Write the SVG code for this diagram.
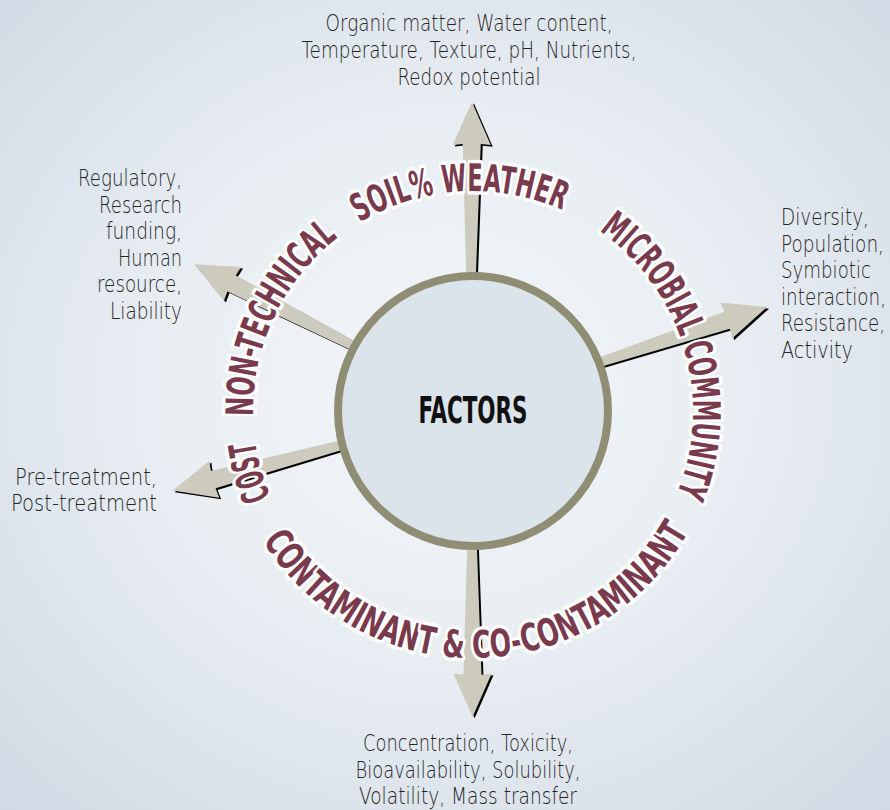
<svg xmlns="http://www.w3.org/2000/svg" width="890" height="810" viewBox="0 0 890 810">
<defs>
<radialGradient id="bg" cx="50%" cy="48%" r="72%">
<stop offset="0" stop-color="#f3f6f9"/>
<stop offset="0.45" stop-color="#e9eef3"/>
<stop offset="1" stop-color="#d0d9e4"/>
</radialGradient>
<path id="pSoil" d="M359.7,222.4 A220,220 0 0 1 594.2,227.6"/>
<path id="pMicro" d="M599.2,230.8 A220,220 0 0 1 659.6,527.6"/>
<path id="pCost" d="M270.5,497.0 A220,220 0 0 1 253.1,403.3"/>
<path id="pNon" d="M253.1,416.0 A220,220 0 0 1 369.7,216.8"/>
<path id="pCont" d="M262.6,540.4 A247,247 0 0 0 706.5,491.4"/>
</defs>
<style>
.arrow{fill:#cdcbbe}
.shadow{fill:#000}
.ring{fill:#dbe4ea;stroke:#8f8e74;stroke-width:8}
.cat{font-family:"DejaVu Sans Condensed","DejaVu Sans",sans-serif;font-weight:bold;font-size:38px;fill:#7a3a4d;stroke:#ffffff;stroke-width:7px;stroke-linejoin:round;paint-order:stroke}
.lbl{font-family:"DejaVu Sans","DejaVu Sans Condensed",sans-serif;font-weight:200;font-size:23px;fill:#262626}
.title{font-family:"DejaVu Sans Condensed","DejaVu Sans",sans-serif;font-weight:bold;font-size:37px;fill:#111111}
</style>
<rect width="890" height="810" fill="url(#bg)"/>
<g id="connectors">
<g transform="translate(2,1.6)" class="shadow">
<polygon transform="translate(471,286) rotate(-89.7)" points="0,-4.5 142,-9 141,-19 184,0 141,19 142,9 0,4.5"/>
<polygon transform="translate(592.7,364.4) rotate(-18.2)" points="0,-4.5 141.5,-9 140.5,-19 183.5,0 140.5,19 141.5,9 0,4.5"/>
<polygon transform="translate(362.5,350.4) rotate(207.1)" points="0,-4.5 147,-9 146,-19 189,0 146,19 147,9 0,4.5"/>
<polygon transform="translate(351.5,442.3) rotate(164.9)" points="0,-4.5 143.2,-9 142.2,-19 185.2,0 142.2,19 143.2,9 0,4.5"/>
<polygon transform="translate(472,536) rotate(89.8)" points="0,-4.5 138.7,-9 137.7,-19 180.7,0 137.7,19 138.7,9 0,4.5"/>
</g>
<g class="arrow">
<polygon id="arrow-soil" transform="translate(471,286) rotate(-89.7)" points="0,-4.5 142,-9 141,-19 184,0 141,19 142,9 0,4.5"/>
<polygon id="arrow-micro" transform="translate(592.7,364.4) rotate(-18.2)" points="0,-4.5 141.5,-9 140.5,-19 183.5,0 140.5,19 141.5,9 0,4.5"/>
<polygon id="arrow-nontech" transform="translate(362.5,350.4) rotate(207.1)" points="0,-4.5 147,-9 146,-19 189,0 146,19 147,9 0,4.5"/>
<polygon id="arrow-cost" transform="translate(351.5,442.3) rotate(164.9)" points="0,-4.5 143.2,-9 142.2,-19 185.2,0 142.2,19 143.2,9 0,4.5"/>
<polygon id="arrow-cont" transform="translate(472,536) rotate(89.8)" points="0,-4.5 138.7,-9 137.7,-19 180.7,0 137.7,19 138.7,9 0,4.5"/>
</g>
</g>
<g id="factors">
<circle class="ring" cx="473" cy="411" r="135"/>
<text class="title" x="473" y="423" text-anchor="middle" textLength="109" lengthAdjust="spacingAndGlyphs">FACTORS</text>
</g>
<g id="cat-soil"><text class="cat"><textPath href="#pSoil" textLength="211" lengthAdjust="spacingAndGlyphs">SOIL% WEATHER</textPath></text></g>
<g id="cat-micro"><text class="cat"><textPath href="#pMicro" textLength="296" lengthAdjust="spacingAndGlyphs">MICROBIAL COMMUNITY</textPath></text></g>
<g id="cat-cost"><text class="cat"><textPath href="#pCost" textLength="58" lengthAdjust="spacingAndGlyphs">COST</textPath></text></g>
<g id="cat-nontech"><text class="cat"><textPath href="#pNon" textLength="205" lengthAdjust="spacingAndGlyphs">NON-TECHNICAL</textPath></text></g>
<g id="cat-cont"><text class="cat"><textPath href="#pCont" textLength="514" lengthAdjust="spacingAndGlyphs">CONTAMINANT &amp; CO-CONTAMINANT</textPath></text></g>
<g id="label-soil" class="lbl" text-anchor="middle">
<text x="469" y="31" textLength="287" lengthAdjust="spacingAndGlyphs">Organic matter, Water content,</text>
<text x="469" y="58" textLength="335" lengthAdjust="spacingAndGlyphs">Temperature, Texture, pH, Nutrients,</text>
<text x="469" y="85" textLength="143" lengthAdjust="spacingAndGlyphs">Redox potential</text>
</g>
<g id="label-micro" class="lbl">
<text x="781" y="225" textLength="88" lengthAdjust="spacingAndGlyphs">Diversity,</text>
<text x="781" y="252" textLength="103" lengthAdjust="spacingAndGlyphs">Population,</text>
<text x="781" y="278" textLength="90" lengthAdjust="spacingAndGlyphs">Symbiotic</text>
<text x="781" y="305" textLength="105" lengthAdjust="spacingAndGlyphs">interaction,</text>
<text x="781" y="331" textLength="104" lengthAdjust="spacingAndGlyphs">Resistance,</text>
<text x="781" y="358" textLength="72" lengthAdjust="spacingAndGlyphs">Activity</text>
</g>
<g id="label-nontech" class="lbl" text-anchor="end">
<text x="182" y="186" textLength="104" lengthAdjust="spacingAndGlyphs">Regulatory,</text>
<text x="182" y="213" textLength="83" lengthAdjust="spacingAndGlyphs">Research</text>
<text x="182" y="239" textLength="76" lengthAdjust="spacingAndGlyphs">funding,</text>
<text x="182" y="266" textLength="64" lengthAdjust="spacingAndGlyphs">Human</text>
<text x="182" y="292" textLength="85" lengthAdjust="spacingAndGlyphs">resource,</text>
<text x="182" y="319" textLength="72" lengthAdjust="spacingAndGlyphs">Liability</text>
</g>
<g id="label-cost" class="lbl" text-anchor="end">
<text x="157" y="485" textLength="142" lengthAdjust="spacingAndGlyphs">Pre-treatment,</text>
<text x="157" y="511" textLength="146" lengthAdjust="spacingAndGlyphs">Post-treatment</text>
</g>
<g id="label-cont" class="lbl" text-anchor="middle">
<text x="468" y="751" textLength="210" lengthAdjust="spacingAndGlyphs">Concentration, Toxicity,</text>
<text x="468" y="778" textLength="225" lengthAdjust="spacingAndGlyphs">Bioavailability, Solubility,</text>
<text x="468" y="804" textLength="218" lengthAdjust="spacingAndGlyphs">Volatility, Mass transfer</text>
</g>
</svg>
